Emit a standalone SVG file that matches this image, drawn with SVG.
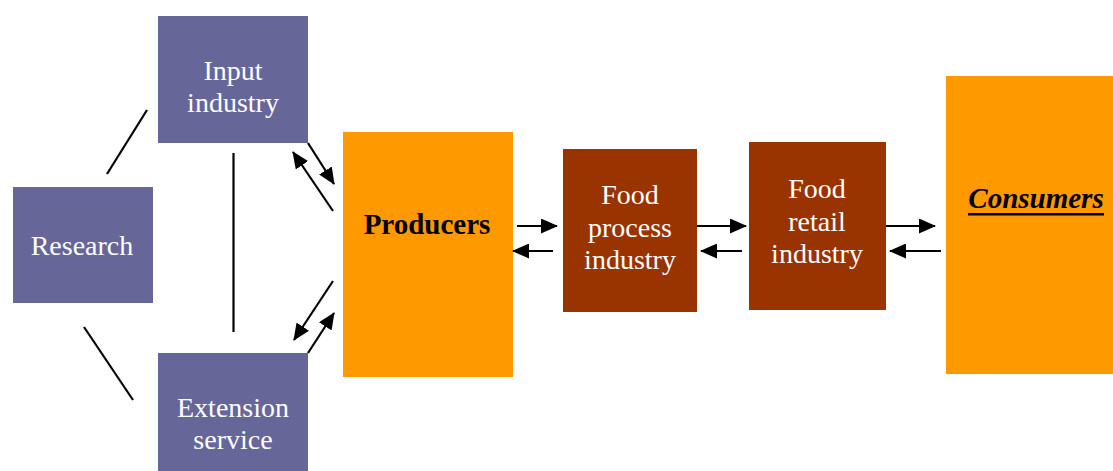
<svg xmlns="http://www.w3.org/2000/svg" width="1113" height="471" viewBox="0 0 1113 471">
<style>
.purple{fill:#666699}
.orange{fill:#FF9900}
.brown{fill:#993300}
text{font-family:'Liberation Serif','Times New Roman',Times,serif;font-size:28px;text-anchor:middle}
.t{fill:#ffffff}
.b{fill:#000000;font-weight:bold;font-size:29px}
.ln{stroke:#000;stroke-width:2.2;fill:none}
.ar{stroke:#000;stroke-width:2.2;fill:none;marker-end:url(#ah)}
</style>
<defs>
<marker id="ah" viewBox="0 0 17 15" refX="16" refY="7.5" markerWidth="17" markerHeight="15" markerUnits="userSpaceOnUse" orient="auto">
<path d="M0,0 L17,7.5 L0,15 z" fill="#000"/>
</marker>
</defs>
<rect width="1113" height="471" fill="#ffffff"/>
<g id="input-industry">
<rect class="purple" x="158" y="16" width="150" height="127"/>
<text class="t" x="233" y="80">Input</text>
<text class="t" x="233" y="112">industry</text>
</g>
<g id="research">
<rect class="purple" x="13" y="187" width="140" height="116"/>
<text class="t" x="82" y="255">Research</text>
</g>
<g id="extension-service">
<rect class="purple" x="158" y="353" width="150" height="118"/>
<text class="t" x="233" y="417">Extension</text>
<text class="t" x="233" y="449">service</text>
</g>
<g id="producers">
<rect class="orange" x="343" y="132" width="170" height="245"/>
<text class="b" x="427" y="234">Producers</text>
</g>
<g id="food-process-industry">
<rect class="brown" x="563" y="149" width="134" height="163"/>
<text class="t" x="630" y="204">Food</text>
<text class="t" x="630" y="237">process</text>
<text class="t" x="630" y="269">industry</text>
</g>
<g id="food-retail-industry">
<rect class="brown" x="749" y="142" width="137" height="168"/>
<text class="t" x="817" y="198">Food</text>
<text class="t" x="817" y="231">retail</text>
<text class="t" x="817" y="263">industry</text>
</g>
<g id="consumers">
<rect class="orange" x="946" y="76" width="167" height="298"/>
<text class="b" x="1036" y="208" font-style="italic">Consumers</text>
<rect x="968" y="213" width="136" height="2.5" fill="#000"/>
</g>
<g id="connectors">
<line class="ln" x1="107" y1="174" x2="147" y2="110"/>
<line class="ln" x1="84" y1="327" x2="133" y2="400"/>
<line class="ln" x1="233.5" y1="153" x2="233.5" y2="332"/>
<line class="ar" x1="308" y1="143" x2="334" y2="184"/>
<line class="ar" x1="333" y1="211" x2="293" y2="152"/>
<line class="ar" x1="333" y1="281" x2="294" y2="340"/>
<line class="ar" x1="308" y1="353" x2="334" y2="313"/>
<line class="ar" x1="517" y1="226" x2="557" y2="226"/>
<line class="ar" x1="553" y1="251" x2="513" y2="251"/>
<line class="ar" x1="697" y1="226" x2="746" y2="226"/>
<line class="ar" x1="742" y1="251" x2="701" y2="251"/>
<line class="ar" x1="886" y1="226" x2="935" y2="226"/>
<line class="ar" x1="941" y1="251" x2="890" y2="251"/>
</g>
</svg>
